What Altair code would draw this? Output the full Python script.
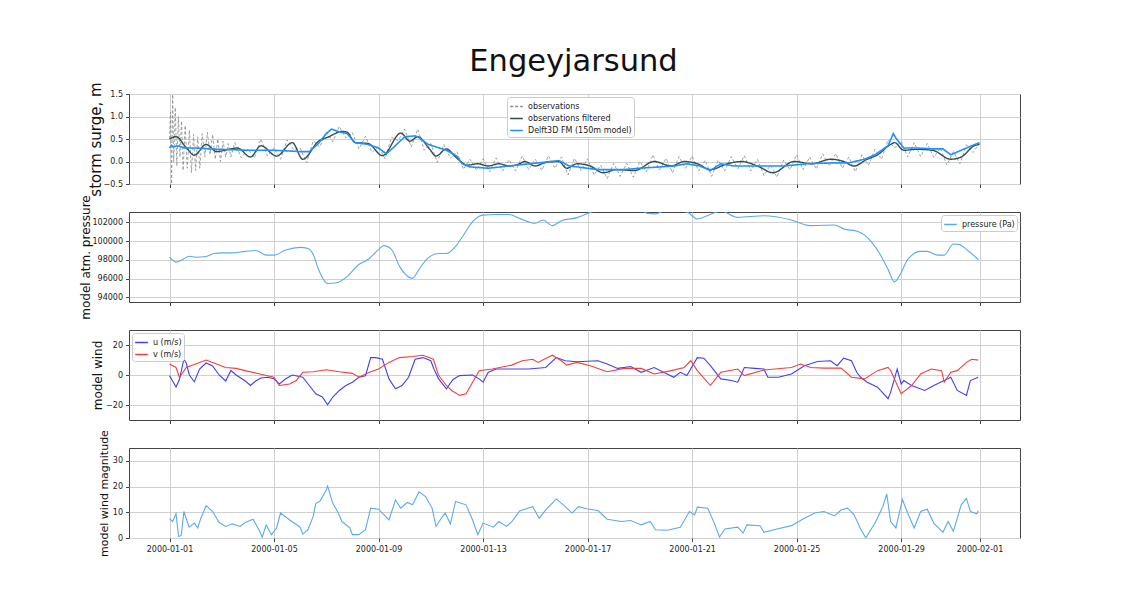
import altair as alt
import pandas as pd

# ---------------- data (days since 2000-01-01) ----------------
obs_early_day = [0.0, 0.04, 0.08, 0.12, 0.16, 0.22, 0.28, 0.34, 0.40, 0.46, 0.52, 0.60, 0.68, 0.76, 0.84,
                 0.92, 1.0, 1.08, 1.16, 1.25, 1.35, 1.45, 1.55, 1.65, 1.75, 1.85, 1.95, 2.05, 2.15, 2.25, 2.35]
obs_early_val = [0.50, 1.10, -0.50, 1.60, 0.00, 1.20, -0.10, 1.00, 0.10, 0.90, -0.20, 0.80, -0.15, 0.70, -0.25,
                 0.60, -0.20, 0.55, -0.15, 0.62, 0.10, 0.65, 0.15, 0.60, 0.05, 0.50, 0.00, 0.45, 0.10, 0.40, 0.10]
obs_late_val = [0.42, 0.08, 0.28, 0.08, 0.50, 0.12, 0.30, 0.05, 0.48, 0.26, 0.30, -0.03, 0.46, 0.32, 0.66, 0.44,
                0.78, 0.52, 0.64, 0.28, 0.56, 0.20, 0.34, 0.06, 0.54, 0.46, 0.72, 0.32, 0.72, 0.25, 0.40, -0.02,
                0.38, 0.07, 0.22, -0.17, 0.05, -0.19, 0.06, -0.23, 0.08, -0.21, 0.04, -0.21, 0.12, -0.18, 0.05,
                -0.20, 0.13, -0.15, 0.10, -0.30, 0.07, -0.20, 0.06, -0.30, -0.08, -0.38, -0.04, -0.33, -0.04,
                -0.35, 0.00, -0.23, 0.15, -0.19, 0.07, -0.25, 0.11, -0.15, 0.12, -0.21, 0.03, -0.33, 0.03, -0.21,
                0.11, -0.16, 0.13, -0.21, 0.05, -0.31, -0.08, -0.35, 0.03, -0.18, 0.15, -0.18, 0.10, -0.17, 0.17,
                -0.10, 0.18, -0.15, 0.10, -0.23, 0.15, -0.09, 0.27, 0.05, 0.48, 0.30, 0.45, 0.10, 0.42, 0.11,
                0.40, 0.09, 0.30, -0.08, 0.22, -0.05, 0.37, 0.20, 0.40]
obs_late_day = [2.5 + 0.25 * i for i in range(len(obs_late_val))]

filt_day = [0, 0.25, 0.65, 0.95, 1.4, 1.8, 2.2, 2.6, 3.1, 3.5, 4.1, 4.7, 5.1, 5.7, 6.1, 6.6, 6.8, 7.1, 7.6,
            8.15, 8.85, 9.2, 9.5, 9.95, 10.2, 10.6, 10.95, 11.4, 11.8, 12.2, 12.6, 13.0, 13.4, 13.6, 14.0, 14.4,
            14.9, 15.2, 15.6, 16.1, 16.6, 17.1, 17.8, 18.55, 19.2, 19.7, 20.2, 20.7, 21.35, 21.9, 22.5, 23.1,
            23.9, 24.6, 25.3, 25.8, 26.2, 26.7, 27.1, 27.6, 27.75, 28.1, 28.6, 29.2, 29.9, 30.3, 30.8, 31.0]
filt_val = [0.50, 0.55, 0.30, 0.14, 0.38, 0.22, 0.26, 0.30, 0.10, 0.35, 0.12, 0.42, 0.05, 0.45, 0.55, 0.67,
            0.65, 0.42, 0.40, 0.13, 0.63, 0.45, 0.55, 0.28, 0.12, 0.28, 0.10, -0.08, -0.05, -0.10, -0.05, -0.10,
            -0.05, 0.00, -0.10, -0.02, 0.00, -0.15, -0.05, -0.10, -0.25, -0.18, -0.20, 0.00, -0.10, 0.00, -0.05,
            -0.18, -0.05, 0.00, -0.10, -0.25, 0.00, -0.05, 0.05, 0.00, -0.10, 0.05, 0.15, 0.38, 0.42, 0.25,
            0.27, 0.25, 0.05, 0.10, 0.35, 0.38]

model_day = [0, 0.08, 0.15, 0.3, 0.6, 1.0, 1.5, 2.0, 3.0, 4.0, 5.0, 5.35, 5.7, 6.0, 6.2, 6.5, 6.8, 7.1, 7.6,
             8.0, 8.3, 8.55, 9.0, 9.4, 9.5, 9.9, 10.6, 11.0, 11.2, 11.5, 12.2, 13.0, 13.8, 14.9, 15.3, 15.6,
             16.4, 17.4, 18.0, 19.3, 19.8, 20.3, 20.7, 21.1, 21.6, 22.5, 23.5, 24.4, 25.4, 26.0, 26.6, 27.0,
             27.5, 27.7, 27.8, 28.1, 28.6, 29.2, 29.6, 29.9, 30.3, 30.7, 31.0]
model_val = [0.30, 0.36, 0.32, 0.35, 0.30, 0.30, 0.28, 0.27, 0.25, 0.25, 0.22, 0.22, 0.40, 0.62, 0.72, 0.66,
             0.62, 0.42, 0.38, 0.30, 0.17, 0.30, 0.55, 0.57, 0.55, 0.38, 0.25, 0.12, -0.05, -0.12, -0.15,
             -0.10, -0.05, 0.02, -0.10, -0.12, -0.18, -0.18, -0.15, -0.10, -0.05, -0.10, -0.20, -0.05, -0.10,
             -0.10, -0.10, -0.05, -0.03, -0.03, 0.05, 0.15, 0.35, 0.62, 0.52, 0.30, 0.30, 0.28, 0.28, 0.15,
             0.25, 0.35, 0.42]

p_day = [0, 0.25, 0.5, 0.76, 1.0, 1.4, 1.7, 2.0, 2.4, 2.9, 3.3, 3.7, 4.0, 4.45, 5.0, 5.3, 5.5, 5.7, 6.05, 6.4,
         6.75, 7.25, 7.6, 8.0, 8.2, 8.5, 8.8, 9.2, 9.3, 9.55, 9.9, 10.3, 10.6, 10.95, 11.3, 11.6, 12.0, 12.5,
         13.0, 13.4, 14.0, 14.3, 14.65, 15.0, 15.6, 16.25, 17.0, 18.0, 18.3, 18.6, 19.0, 19.8, 20.2, 20.7,
         21.1, 21.75, 22.75, 23.8, 24.5, 25.45, 25.8, 26.35, 26.85, 27.2, 27.5, 27.75, 28.0, 28.25, 28.75,
         29.0, 29.4, 29.65, 30.0, 30.2, 30.55, 30.95]
p_val = [98280, 97750, 98030, 98380, 98280, 98350, 98670, 98740, 98740, 98900, 99000, 98500, 98500, 99050,
         99330, 99200, 98560, 97000, 95480, 95550, 96100, 97500, 98030, 99090, 99510, 99090, 97330, 96100,
         96030, 96980, 98200, 98670, 98670, 99440, 100840, 102070, 102770, 102840, 102840, 102420, 101900,
         102250, 101650, 102175, 102500, 103200, 103600, 103400, 102950, 102900, 103300, 103100, 102350,
         102840, 103200, 102530, 102700, 102250, 101650, 101720, 101300, 101020, 99960, 98560, 96980, 95650,
         96630, 98030, 98900, 98900, 98500, 98500, 99680, 99650, 99000, 98030]

u_day = [0, 0.12, 0.25, 0.38, 0.55, 0.64, 0.76, 0.95, 1.15, 1.4, 1.65, 1.9, 2.15, 2.35, 2.55, 2.9, 3.1, 3.3,
         3.5, 3.75, 4.0, 4.2, 4.45, 4.7, 5.1, 5.35, 5.6, 5.85, 6.05, 6.25, 6.5, 6.75, 7.0, 7.25, 7.5, 7.7, 7.9,
         8.15, 8.4, 8.65, 8.9, 9.15, 9.4, 9.7, 10.0, 10.12, 10.3, 10.6, 10.85, 11.1, 11.6, 11.85, 12.0, 12.2,
         12.5, 13.1, 13.75, 14.4, 14.8, 15.15, 15.6, 16.4, 16.75, 17.15, 17.65, 18.05, 18.55, 18.95, 19.3,
         19.55, 19.8, 20.2, 20.45, 20.7, 21.1, 21.5, 21.75, 22.0, 22.4, 22.75, 22.9, 23.3, 23.8, 24.3, 24.8,
         25.3, 25.55, 25.8, 26.1, 26.3, 26.45, 26.7, 27.1, 27.5, 27.6, 27.85, 28.0, 28.1, 28.4, 28.9, 29.25,
         29.65, 29.9, 30.15, 30.5, 30.65, 30.95]
u_val = [-0.4, -4, -8, -3, 10.5, 8, 0, -4.5, 4, 8, 6, 0, -4, 3, 0, -4, -7, -4, -2, -1.5, -2.5, -6, -2.5, 0,
         -1.5, -7, -12.5, -14.7, -19.8, -14.7, -10.3, -7, -4.8, -1.5, -0.5, 11.6, 11.6, 10.5, -2.6, -9.2, -7,
         -1.5, 10.5, 11.6, 9.5, 4, -2.6, -9.2, -3, -0.4, 0, -2.6, -4.8, 1.8, 4, 4, 4, 5, 11.6, 9.5, 8.8, 9.5,
         7.3, 4.4, 5.7, 1.8, 5, 1.5, -1.5, 1.8, -0.4, 11.6, 11.2, 6.2, -2.6, -3.7, -4.8, 5, 4.4, 4, -1.5,
         -1.5, 0.7, 6.2, 9, 9.5, 6.2, 11.2, 9.5, 1.8, -1.5, -4.8, -8.1, -15.8, -11.4, 4, -6, -3.7, -7, -10.3,
         -7, -3.7, -1.5, -10.3, -13.6, -3.7, -1.5]

v_day = [0, 0.25, 0.38, 0.64, 1.0, 1.4, 1.65, 2.15, 2.55, 2.9, 3.45, 4.0, 4.2, 4.6, 4.85, 5.1, 5.5, 6.0, 6.5,
         7.0, 7.25, 7.65, 8.0, 8.4, 8.8, 9.3, 9.7, 10.1, 10.3, 10.6, 10.8, 11.1, 11.35, 11.6, 11.85, 12.35,
         13.1, 13.5, 13.9, 14.1, 14.65, 15.0, 15.2, 15.6, 16.1, 16.75, 17.4, 18.05, 18.55, 19.2, 19.7, 19.95,
         20.2, 20.7, 21.1, 21.75, 22.0, 22.75, 23.8, 24.15, 24.55, 25.05, 25.7, 26.1, 26.6, 27.1, 27.5, 27.6,
         28.0, 28.4, 28.75, 29.15, 29.55, 29.65, 29.9, 30.15, 30.5, 30.7, 30.95]
v_val = [7.3, 5, -1.5, 5, 7.3, 10, 8.4, 5, 4.4, 2.9, 0.7, -1.5, -7, -6, -3.7, 1.8, 2.2, 3.5, 2.2, 1.1, -1.5,
         1.8, 4, 8.4, 11.6, 12.3, 13.2, 10.5, -0.4, -7, -10.3, -13.6, -12.5, -4.8, 2.9, 4, 6.6, 9.5, 10.5, 8.4,
         13.2, 9.5, 6.6, 8.4, 6.2, 2.2, 4.4, 4.4, 0.7, 2.9, 5, 9.5, 2.9, -7, 1.8, 4, -0.4, 3.3, 5, 7.3, 5, 4.6,
         4.6, -1.5, -2.6, 2.9, 5, 3, -12.5, -7, 0.7, 4, 2.9, -4.8, 1.8, 2.9, 8.4, 10.5, 9.9]

m_day = [0, 0.12, 0.25, 0.35, 0.45, 0.55, 0.75, 0.95, 1.08, 1.2, 1.4, 1.65, 1.9, 2.15, 2.4, 2.7, 2.9, 3.2,
         3.45, 3.55, 3.7, 3.9, 4.1, 4.25, 4.6, 5.0, 5.1, 5.3, 5.5, 5.6, 5.75, 6.0, 6.05, 6.25, 6.45, 6.6, 6.9,
         7.0, 7.25, 7.5, 7.7, 8.0, 8.4, 8.65, 8.85, 9.1, 9.3, 9.55, 9.8, 10.05, 10.2, 10.4, 10.55, 10.75,
         10.95, 11.35, 11.6, 11.8, 12.0, 12.4, 12.6, 12.9, 13.1, 13.4, 13.9, 14.15, 14.4, 14.8, 15.15, 15.4,
         15.65, 16.0, 16.4, 16.75, 17.3, 17.65, 18.05, 18.4, 18.6, 19.05, 19.55, 19.9, 20.1, 20.2, 20.6,
         20.85, 21.05, 21.25, 21.75, 21.95, 22.1, 22.6, 22.75, 23.25, 23.8, 24.3, 24.7, 25.05, 25.45, 25.7,
         25.95, 26.2, 26.45, 26.65, 27.0, 27.3, 27.45, 27.6, 27.8, 28.05, 28.25, 28.5, 28.75, 29.0, 29.25,
         29.6, 29.8, 30.0, 30.3, 30.5, 30.65, 30.9, 30.95]
m_val = [7.5, 6.4, 9.4, 0.6, 1.0, 10.3, 4.2, 5.8, 3.9, 7.7, 12.6, 10.3, 6, 4.5, 5.5, 4.5, 6, 7.3, 2.6, 0.3,
         5.1, 1.3, 3.9, 9.7, 7, 4.2, 1.5, 3.2, 8.4, 13.5, 14.2, 18.7, 20.2, 13.5, 9.9, 6.4, 4, 1.3, 1.3, 3.2,
         11.6, 11.2, 7, 14.8, 11.6, 13.8, 12.9, 18, 16.1, 11.6, 4.5, 7.7, 9.7, 5.5, 14.2, 12.9, 7, 1.3, 5.8,
         4.2, 6.4, 4.5, 6.4, 10.5, 12.2, 7.7, 10.9, 15.2, 12.2, 9.7, 12.2, 11.3, 10.7, 7.3, 6.4, 6.8, 5.1, 6.4,
         3.2, 3, 4.2, 10.3, 9, 12, 11.6, 5.8, 0.4, 3.5, 4.2, 1.9, 5.1, 4.8, 2.2, 3.5, 4.8, 7.7, 9.7, 10.3,
         8.6, 10.9, 11.6, 9, 3.5, 0, 5.8, 12.2, 17.1, 6.4, 3.9, 15, 9.7, 3.9, 10.3, 11.2, 5.8, 2.2, 6.4, 2.6,
         12.9, 15.4, 10.3, 9.4, 10.7]

surge_series = ["observations", "observations filtered", "Delft3D FM (150m model)"]
wind_series = ["u (m/s)", "v (m/s)"]
tick_dates = [(2000, 1, 1), (2000, 1, 5), (2000, 1, 9), (2000, 1, 13), (2000, 1, 17),
              (2000, 1, 21), (2000, 1, 25), (2000, 1, 29), (2000, 2, 1)]

BASE = pd.Timestamp("2000-01-01")


def frame(days, vals, name):
    return pd.DataFrame({
        "time": [BASE + pd.Timedelta(days=d) for d in days],
        "value": vals,
        "series": name,
    })


surge_df = pd.concat([
    frame(obs_early_day + obs_late_day, obs_early_val + obs_late_val, surge_series[0]),
    frame(filt_day, filt_val, surge_series[1]),
    frame(model_day, model_val, surge_series[2]),
])
press_df = frame(p_day, p_val, "pressure (Pa)")
wind_df = pd.concat([frame(u_day, u_val, wind_series[0]), frame(v_day, v_val, wind_series[1])])
mag_df = frame(m_day, m_val, "magnitude")

W, H = 891, 90
x_domain = [alt.DateTime(year=1999, month=12, date=30, hours=10, minutes=48),
            alt.DateTime(year=2000, month=2, date=2, hours=13, minutes=12)]
x_values = [alt.DateTime(year=y, month=m, date=d) for (y, m, d) in tick_dates]


def xenc(labels):
    return alt.X("time:T", scale=alt.Scale(domain=x_domain),
                 axis=alt.Axis(values=x_values, format="%Y-%m-%d", labels=labels, title=None,
                               labelFontSize=8, labelPadding=4))


def yaxis(title, values, fmt, size, tx):
    return alt.Axis(title=title, values=values, format=fmt, titleFontSize=size, titleX=tx,
                    titleBaseline="middle", titleFontWeight="normal", titleColor="#111")


legend_common = dict(title=None, labelFontSize=8, symbolType="stroke", fillColor="white",
                     strokeColor="#cccccc", padding=2, cornerRadius=3, symbolStrokeWidth=1.5,
                     symbolSize=160, rowPadding=0, labelColor="#222")

# ---- panel 1 ----
surge_color = alt.Color("series:N", scale=alt.Scale(domain=surge_series,
                                                    range=["#8c8c8c", "#2f4f4f", "#1e90ff"]),
                        legend=alt.Legend(orient="none", legendX=378, legendY=3, **legend_common))
surge_dash = alt.StrokeDash("series:N", scale=alt.Scale(domain=surge_series,
                                                        range=[[3, 2], [1, 0], [1, 0]]),
                            legend=alt.Legend(orient="none", legendX=378, legendY=3, **legend_common))
y1 = alt.Y("value:Q", scale=alt.Scale(domain=[-0.5, 1.5]),
           axis=yaxis("storm surge, m", [-0.5, 0, 0.5, 1.0, 1.5], ".1f", 15, -34))

base1 = alt.Chart(surge_df).encode(x=xenc(False), y=y1, color=surge_color, strokeDash=surge_dash)
p1 = alt.layer(
    base1.transform_filter(alt.datum.series == surge_series[0]).mark_line(clip=True, strokeWidth=0.8),
    base1.transform_filter(alt.datum.series == surge_series[1]).mark_line(clip=True, strokeWidth=1.4,
                                                                          interpolate="monotone"),
    base1.transform_filter(alt.datum.series == surge_series[2]).mark_line(clip=True, strokeWidth=1.6),
).properties(width=W, height=H)

# ---- panel 2 ----
p2 = alt.Chart(press_df).mark_line(clip=True, strokeWidth=1.1, interpolate="monotone").encode(
    x=xenc(False),
    y=alt.Y("value:Q", scale=alt.Scale(domain=[93500, 103100], nice=False, zero=False),
            axis=yaxis("model atm. pressure", [94000, 96000, 98000, 100000, 102000], "d", 12, -44)),
    color=alt.Color("series:N", scale=alt.Scale(range=["#5aaaf0"]),
                    legend=alt.Legend(orient="top-right", offset=3, **legend_common)),
).properties(width=W, height=H)

# ---- panel 3 ----
p3 = alt.Chart(wind_df).mark_line(clip=True, strokeWidth=1.1).encode(
    x=xenc(False),
    y=alt.Y("value:Q", scale=alt.Scale(domain=[-30, 30], nice=False),
            axis=yaxis("model wind", [-20, 0, 20], "d", 12, -32)),
    color=alt.Color("series:N", scale=alt.Scale(domain=wind_series, range=["#4040f0", "#f04040"]),
                    legend=alt.Legend(orient="top-left", offset=3, **legend_common)),
).properties(width=W, height=H)

# ---- panel 4 ----
p4 = alt.Chart(mag_df).mark_line(clip=True, strokeWidth=1.1, color="#5aaaf0").encode(
    x=xenc(True),
    y=alt.Y("value:Q", scale=alt.Scale(domain=[0, 35], nice=False),
            axis=yaxis("model wind magnitude", [0, 10, 20, 30], "d", 11, -25)),
).properties(width=W, height=H)

chart = alt.vconcat(p1, p2, p3, p4, spacing=28, bounds="flush").resolve_scale(
    color="independent", strokeDash="independent"
).resolve_legend(
    color="independent", strokeDash="independent"
).properties(
    title=alt.TitleParams("Engeyjarsund", fontSize=30.5, fontWeight="normal", anchor="middle",
                          color="#111", offset=4, dx=24),
    padding={"left": 70, "top": 38, "right": 10, "bottom": 10},
).configure(
    font="DejaVu Sans",
).configure_view(
    stroke="#444444", strokeWidth=1,
).configure_axis(
    domain=False, gridColor="#d0d0d0", gridWidth=1, tickColor="#444444", tickSize=3.5,
    labelFontSize=8, labelColor="#222", labelPadding=3,
)

chart.save("out.html", embed_options={"renderer": "svg", "actions": False})
